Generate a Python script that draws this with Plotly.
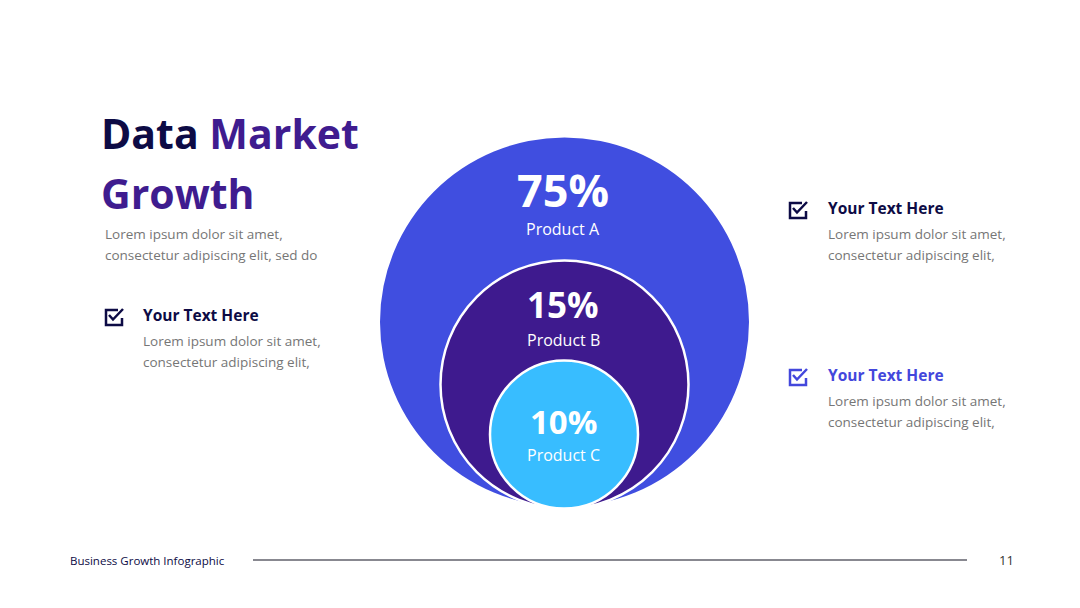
import plotly.graph_objects as go

# ---- data ----
products = ["Product A", "Product B", "Product C"]
shares = [75, 15, 10]
title_dark = "Data"
title_accent = ["Market", "Growth"]
intro_lines = ["Lorem ipsum dolor sit amet,", "consectetur adipiscing elit, sed do"]
item_titles = ["Your Text Here", "Your Text Here", "Your Text Here"]
item_lines = ["Lorem ipsum dolor sit amet,", "consectetur adipiscing elit,"]
footer_text = "Business Growth Infographic"
page_number = "11"

# ---- styles / geometry ----
W, H = 1080, 608
FONT = "Open Sans"
NAVY = "#0d0b45"
PURPLE = "#3f1c8f"
GRAY = "#767676"
circle_colors = ["#404ee0", "#3e1a8e", "#38bdff"]
circle_geom = [  # cx, bottom, r
    (564.5, 506.5, 184.5),
    (564.5, 508.5, 124),
    (564, 508.5, 74),
]
pct_y = [189, 304, 421]
pct_size = [45, 35, 33]
name_y = [229, 340, 455]

fig = go.Figure()
fig.add_trace(go.Scatter(x=[0], y=[0], mode="markers", marker=dict(opacity=0), hoverinfo="skip", showlegend=False))

shapes = []
for i, (cx, bot, r) in enumerate(circle_geom):
    shapes.append(dict(type="circle", xref="x", yref="y",
                       x0=cx - r, x1=cx + r, y0=bot - 2 * r, y1=bot,
                       fillcolor=circle_colors[i],
                       line=dict(color="white", width=0 if i == 0 else 2.5)))

annotations = []


def ann(x, y, text, size, color, bold=False, xanchor="left"):
    if bold:
        text = "<b>" + text + "</b>"
    annotations.append(dict(x=x, y=y, xref="x", yref="y", text=text, showarrow=False,
                            xanchor=xanchor, yanchor="middle",
                            font=dict(family=FONT, size=size, color=color)))


for i, p in enumerate(products):
    ann(563, pct_y[i], f"{shares[i]}%", pct_size[i], "white", bold=True, xanchor="center")
    ann(563, name_y[i], p, 16, "white", xanchor="center")

# title
annotations.append(dict(x=99, y=133, xref="x", yref="y", showarrow=False, xanchor="left", yanchor="middle",
                        text=f"<b><span style='color:{NAVY}'>{title_dark}</span> "
                             f"<span style='color:{PURPLE}'>{title_accent[0]}</span></b>",
                        font=dict(family=FONT, size=41, color=NAVY)))
annotations.append(dict(x=99, y=193, xref="x", yref="y", showarrow=False, xanchor="left", yanchor="middle",
                        text=f"<b>{title_accent[1]}</b>",
                        font=dict(family=FONT, size=41, color=PURPLE)))
ann(103, 234, intro_lines[0], 13.5, GRAY)
ann(103, 255, intro_lines[1], 13.5, GRAY)

# items
items = [  # icon x, icon y, text x, heading y, color
    (106, 310, 141, 315, NAVY),
    (790, 203, 826, 208, NAVY),
    (790, 370, 826, 375, "#4347dc"),
]
for k, (ix, iy, tx, ty, col) in enumerate(items):
    ann(tx, ty, item_titles[k], 15.5, col, bold=True)
    ann(tx, ty + 26, item_lines[0], 13.5, GRAY)
    ann(tx, ty + 47, item_lines[1], 13.5, GRAY)
    shapes.append(dict(type="path", xref="x", yref="y",
                       path=f"M {ix+12},{iy} L {ix},{iy} L {ix},{iy+15} L {ix+16},{iy+15} L {ix+16},{iy+8}",
                       line=dict(color=col, width=2.5)))
    shapes.append(dict(type="path", xref="x", yref="y",
                       path=f"M {ix+3},{iy+5} L {ix+7},{iy+9.5} L {ix+17},{iy-1}",
                       line=dict(color=col, width=2.5)))

# footer
ann(68, 560, footer_text, 11.5, NAVY)
ann(1006, 560, page_number, 13, "#333333", xanchor="center")
shapes.append(dict(type="line", xref="x", yref="y", x0=253, x1=967, y0=560, y1=560,
                   line=dict(color="#888890", width=2)))

fig.update_layout(
    width=W, height=H, autosize=False,
    margin=dict(l=0, r=0, t=0, b=0),
    paper_bgcolor="white", plot_bgcolor="white",
    xaxis=dict(range=[0, W], visible=False, fixedrange=True),
    yaxis=dict(range=[H, 0], visible=False, fixedrange=True),
    shapes=shapes, annotations=annotations,
    showlegend=False,
)

fig.write_html("out.html", config={"displayModeBar": False},
               post_script="document.body.style.margin='0';document.body.style.overflow='hidden';")
